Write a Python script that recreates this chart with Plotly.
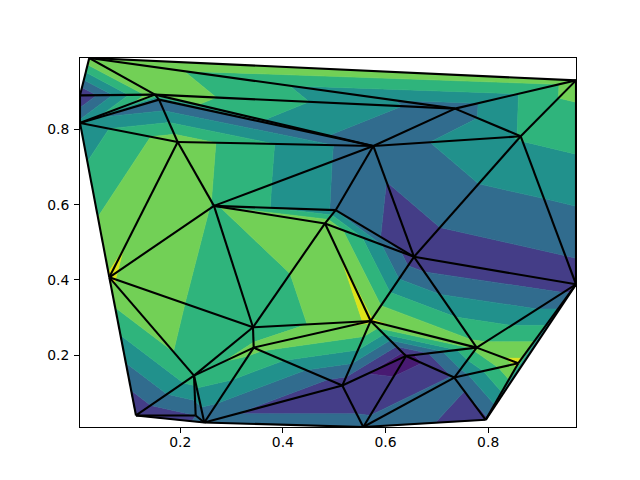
import plotly.graph_objects as go

names = ["A","B","C","D1","D2","I","J","H","F","G","E","K","L","M","N","O","P","Q","R","Y","Z","AA","AB","AC","X","S","T","U","V","W"]
xs = [.0229,.0048,.0048,.1509,.1587,.1951,.2658,.5762,.7354,.8634,.9711,.5029,.4821,.6555,.9711,.0619,.3418,.5711,.7776,.6399,.7340,.8587,.7952,.5567,.5158,.3432,.2269,.1139,.2302,.2470]
ys = [.9903,.8910,.8175,.8929,.8796,.7670,.5971,.7564,.8557,.7822,.9308,.5857,.5504,.4617,.3885,.4071,.2743,.2911,.2202,.1981,.1405,.1788,.0282,.0091,.1193,.2202,.1458,.0397,.0397,.0211]
zs = [5.90,0.95,3.30,5.66,2.05,5.65,4.95,2.32,2.43,4.09,5.42,2.90,5.92,1.33,1.50,6.09,4.02,6.15,5.35,0.46,2.10,6.30,1.79,2.30,1.36,5.35,4.65,1.10,2.00,2.20]
triangles = """A B D1;B C D1;C D1 D2;C D2 I;C I O;I J O;D2 I H;D1 D2 H;A D1 F;D1 F H;A F E;F E G;F G H;I J H;J K H;J K L;J L P;J O P;O P T;O T U;K H M;K L M;L M Q;L P Q;P Q S;P S T;S T W;T V W;T U V;U V W;S W X;S X Q;Q X Y;X Y AC;W X AC;Y Z AC;Z AB AC;Y Z R;Y R Q;Q R M;M R N;M N G;H M G;G N E;R N AA;R AA Z;Z AA AB;N AA AB"""
levels = [0, 1, 2, 3, 4, 5, 6, 7]
band_colors = ["#481a72", "#443d87", "#316c8e", "#21918c", "#2fb47c", "#72d056", "#dde318"]
x_ticks = [0.2, 0.4, 0.6, 0.8]
y_ticks = [0.2, 0.4, 0.6, 0.8]
x_range = [0.0048, 0.9711]
y_range = [0.0091, 0.9903]

index = {n: i for i, n in enumerate(names)}
tris = [[index[n] for n in t.split()] for t in triangles.split(";")]


def clip(poly, level, keep_above):
    out = []
    for i in range(len(poly)):
        a, b = poly[i], poly[(i + 1) % len(poly)]
        ina = a[2] >= level if keep_above else a[2] <= level
        inb = b[2] >= level if keep_above else b[2] <= level
        if ina:
            out.append(a)
        if ina != inb:
            t = (level - a[2]) / (b[2] - a[2])
            out.append((a[0] + t * (b[0] - a[0]), a[1] + t * (b[1] - a[1]), level))
    return out


fig = go.Figure()
for k, color in enumerate(band_colors):
    bx, by = [], []
    for tri in tris:
        poly = [(xs[i], ys[i], zs[i]) for i in tri]
        poly = clip(poly, levels[k], True)
        if poly:
            poly = clip(poly, levels[k + 1], False)
        if len(poly) >= 3:
            bx += [p[0] for p in poly] + [poly[0][0], None]
            by += [p[1] for p in poly] + [poly[0][1], None]
    fig.add_trace(go.Scatter(x=bx, y=by, mode="lines", fill="toself", fillcolor=color,
                             line=dict(color=color, width=0.6), hoverinfo="skip", showlegend=False))

edges = set()
for a, b, c in tris:
    for u, v in ((a, b), (b, c), (c, a)):
        edges.add((min(u, v), max(u, v)))
ex, ey = [], []
for u, v in sorted(edges):
    ex += [xs[u], xs[v], None]
    ey += [ys[u], ys[v], None]
fig.add_trace(go.Scatter(x=ex, y=ey, mode="lines", line=dict(color="black", width=2.1),
                         hoverinfo="skip", showlegend=False))

axis = dict(showgrid=False, zeroline=False, showline=True, mirror=True, linecolor="black", linewidth=1,
            ticks="outside", ticklen=5, tickwidth=1, tickcolor="black", tickformat=".1f",
            tickfont=dict(family="DejaVu Sans", size=13.9, color="black"))
fig.update_xaxes(range=x_range, tickvals=x_ticks, ticklabelstandoff=-3, **axis)
fig.update_yaxes(range=y_range, tickvals=y_ticks, ticklabelstandoff=2, **axis)
fig.update_layout(width=640, height=480, autosize=False, paper_bgcolor="white", plot_bgcolor="white",
                  margin=dict(l=72, r=72, t=49.6, b=60.8, pad=0))
fig.write_html("out.html")
